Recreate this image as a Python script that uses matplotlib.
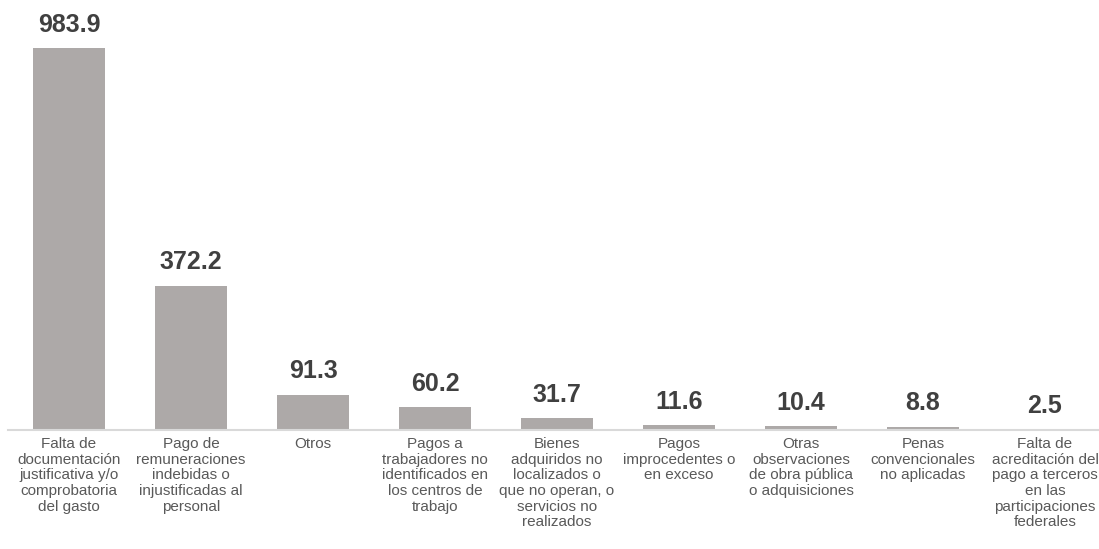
import matplotlib.pyplot as plt

categories = [
    "Falta de\ndocumentación\njustificativa y/o\ncomprobatoria\ndel gasto",
    "Pago de\nremuneraciones\nindebidas o\ninjustificadas al\npersonal",
    "Otros",
    "Pagos a\ntrabajadores no\nidentificados en\nlos centros de\ntrabajo",
    "Bienes\nadquiridos no\nlocalizados o\nque no operan, o\nservicios no\nrealizados",
    "Pagos\nimprocedentes o\nen exceso",
    "Otras\nobservaciones\nde obra pública\no adquisiciones",
    "Penas\nconvencionales\nno aplicadas",
    "Falta de\nacreditación del\npago a terceros\nen las\nparticipaciones\nfederales",
]
values = [983.9, 372.2, 91.3, 60.2, 31.7, 11.6, 10.4, 8.8, 2.5]

plt.rcParams['font.family'] = ['Liberation Sans', 'DejaVu Sans']

fig = plt.figure(figsize=(10.99, 5.49), dpi=100)
ax = fig.add_axes([8 / 1099, 119 / 549, 1098 / 1099, 430 / 549])

x = list(range(len(values)))
bars = ax.bar(x, values, width=0.59, color='#ADA9A8')

for b, v in zip(bars, values):
    ax.annotate(f'{v:.1f}', (b.get_x() + b.get_width() / 2, v),
                xytext=(0, 8), textcoords='offset points',
                ha='center', va='bottom', fontsize=18, fontweight='bold',
                color='#404040')

ax.set_xlim(-0.5, len(values) - 0.5)
ax.set_ylim(0, 1108)
ax.set_xticks(x)
ax.set_xticklabels(categories, fontsize=11, color='#595959', linespacing=1.15)
ax.tick_params(axis='x', length=0, pad=5)
ax.set_yticks([])
for s in ['top', 'right', 'left']:
    ax.spines[s].set_visible(False)
ax.spines['bottom'].set_color('#D9D9D9')
ax.spines['bottom'].set_linewidth(1.5)

fig.savefig('out.png', dpi=100)
